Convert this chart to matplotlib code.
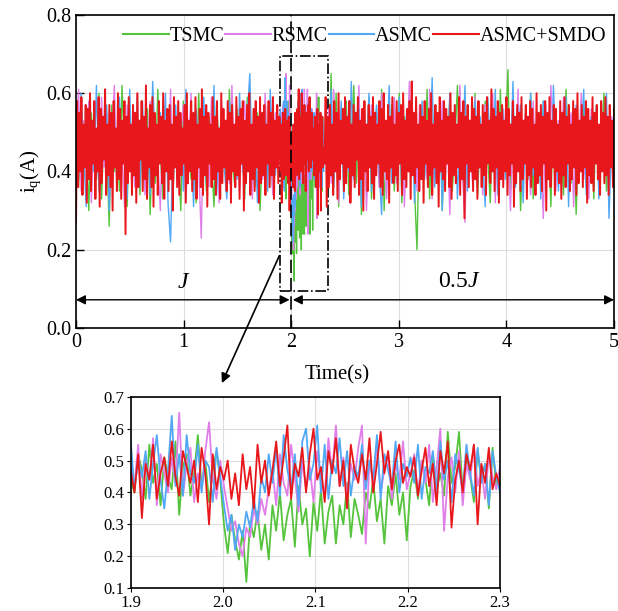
import numpy as np
import matplotlib
matplotlib.use('Agg')
import matplotlib.pyplot as plt
from matplotlib.patches import Rectangle, ConnectionPatch

plt.rcParams['font.family'] = 'Liberation Serif'
plt.rcParams['mathtext.fontset'] = 'custom'
plt.rcParams['mathtext.rm'] = 'Liberation Serif'
plt.rcParams['mathtext.it'] = 'Liberation Serif:italic'

# series names / colours
names = ['TSMC', 'RSMC', 'ASMC', 'ASMC+SMDO']
colors = ['#55C43C', '#E07FE8', '#52A8F5', '#E8171B']

# values, in units of 0.01 A
# zoom window 1.9 s .. 2.3 s
z_tsmc = [44,40,52,47,38,55,43,49,36,51,45,41,56,33,48,52,39,46,58,42,50,37,47,53,44,
          30,21,33,25,19,28,12,31,26,34,22,30,19,
          36,28,40,25,33,38,23,42,30,35,20,37,28,41,24,34,39,24,36,30,43,26,38,33,
          27,40,35,44,31,38,24,42,36,46,33,40,25,
          42,47,38,50,44,36,52,41,46,39,59,43,48,59,40,51,45,37,53,44,49,35,54,42,47]
z_rsmc = [48,42,55,38,50,44,57,36,52,46,40,51,43,65,39,49,54,37,46,41,53,62,44,38,50,
          42,35,28,31,24,20,29,26,35,30,38,33,41,
          47,36,52,43,39,55,45,34,50,41,48,37,53,44,39,57,46,61,42,51,38,49,44,54,
          61,24,50,43,55,40,47,52,38,49,44,56,41,
          46,52,39,50,43,55,37,48,60,28,45,51,40,53,36,49,44,55,42,47,38,52,45,41,48]
z_asmc = [56,41,50,45,53,38,49,58,44,35,47,64,42,52,39,58,46,43,55,40,50,48,37,54,45,
          36,28,33,22,30,26,34,29,38,31,45,40,52,
          43,54,39,58,47,41,52,36,56,60,44,49,61,40,55,38,50,46,57,42,53,39,48,45,
          55,41,50,44,58,38,52,47,42,56,40,49,45,
          51,43,55,38,48,46,53,40,56,44,50,37,52,47,41,55,46,39,54,43,49,36,53,45,40]
z_smdo = [47,40,52,32,49,44,55,38,46,51,42,56,45,39,53,48,43,50,37,54,46,30,52,41,48,
          44,50,38,46,36,52,41,48,35,55,43,50,39,
          47,56,42,51,61,38,49,45,54,40,52,60,44,48,37,53,46,57,42,50,35,55,47,43,
          52,44,57,40,49,59,46,53,41,50,55,43,48,
          45,51,39,47,54,42,49,36,53,46,56,29,44,50,40,52,47,55,30,49,43,54,41,46,42]

# 0 .. 1.9 s
a_tsmc = [50,36,58,41,47,30,55,44,38,60,33,52,45,26,57,40,49,35,62,43,31,54,46,39,59,34,51,42,56,29,
          48,37,61,44,33,53,40,57,36,50,45,30,58,42,47,38,55,32,60,41,49,35,54,43,31,57,46,39,52,34,
          61,44,37,56,40,48,33,59,42,51,36,55,30,47,58,41,45,35,53,43]
a_rsmc = [47,61,35,53,42,58,32,50,44,37,59,41,55,33,48,62,39,52,45,31,57,43,49,36,60,40,54,34,46,58,
          38,51,43,30,56,47,39,61,35,53,41,49,57,33,45,60,38,52,42,23,55,46,36,59,44,50,32,57,41,48,
          37,62,43,54,35,49,58,40,46,33,56,44,51,38,60,42,47,34,55,45]
a_asmc = [53,38,60,44,31,56,47,40,62,35,51,43,57,30,49,54,37,59,42,46,33,61,39,52,45,36,58,41,50,34,
          63,47,38,55,43,60,32,22,48,57,40,53,35,61,44,50,31,56,46,39,59,37,52,42,62,34,48,55,41,33,
          58,45,51,38,60,43,36,54,65,40,49,32,57,46,53,35,61,44,39,50]
a_smdo = [27,58,36,55,40,59,34,52,41,57,32,56,38,60,35,53,42,58,33,51,
          40,59,31,56,37,54,43,61,34,52,39,57,36,55,30,58,41,51,35,60,
          38,56,33,53,42,58,24,54,37,59,40,52,34,57,39,55,32,60,36,53,
          43,58,35,54,38,62,33,51,41,57,36,59,31,55,39,52,34,58,42,54,
          37,60,33,53,40,56,35,57,38,52,30,59,41,54,36,58,34,55,39,51,
          42,57,32,60,37,53,40,58,35,55,38,59,33,52,41,56,36,61,34,54,
          39,57,31,55,42,52,36,59,38,54,34,58,40,51,33,60,37,56,41,53,
          35,58,38,55,32,57,40,52,36,59,39,54,33,56,42,58,30,53,37,57,
          40,60,34,52,38,56,35,58,41,54,32,59,37,55,39,57,34,52,42,58,
          36,55,39,59,33,53,41,57,37,54]

# 2.3 .. 5 s
b_tsmc = [45,38,65,36,60,31,53,42,58,34,49,62,37,55,29,51,44,59,33,47,56,38,61,30,50,43,57,35,48,60,
          32,54,41,46,58,36,20,52,44,39,61,33,49,55,37,57,30,51,43,59,35,47,62,38,53,31,56,42,48,60,
          34,50,39,58,44,32,54,46,37,61,41,49,66,35,52,43,57,30,48,55,38,60,33,51,45,36,58,42,49,31,
          56,39,53,47,34,61,44,37,55,29,50,42,58,36,48,53,33,57,40,46,60,35,51,43,38]
b_rsmc = [43,56,37,61,45,32,52,48,39,58,35,50,44,62,38,54,30,47,57,41,53,36,60,45,33,51,42,59,37,48,
          55,31,46,63,40,52,35,57,44,49,38,61,33,53,46,41,58,36,50,29,55,43,48,62,39,27,54,45,37,59,
          42,51,34,57,47,40,60,32,53,44,38,56,46,30,52,41,61,36,49,55,43,34,58,40,50,45,28,57,39,62,
          47,35,53,42,59,37,48,55,31,51,44,60,38,46,33,56,43,52,36,58,41,49,35,54,45]
b_asmc = [55,42,61,36,50,45,58,33,52,40,63,38,47,56,31,54,44,60,35,49,57,41,29,53,46,62,37,51,43,59,
          34,48,56,40,61,32,50,45,58,38,53,42,64,36,47,55,30,51,44,60,39,57,33,49,46,62,35,52,41,58,
          37,54,43,31,59,47,40,61,34,50,56,38,53,44,63,36,48,57,32,51,42,60,39,46,55,33,58,43,50,37,
          62,45,35,53,48,59,31,52,41,57,38,49,61,34,46,54,40,56,33,51,44,60,28,47,55]
b_smdo = [42,59,31,54,36,57,39,52,34,58,40,55,33,60,38,53,42,56,35,59,
          37,54,41,58,32,52,39,57,36,55,43,59,34,53,38,56,30,58,40,52,
          35,57,41,54,37,59,33,55,39,52,42,58,36,56,34,60,40,53,38,57,
          32,54,41,59,37,52,39,58,35,55,42,57,34,60,38,53,36,56,40,58,
          33,63,39,55,37,59,41,52,35,57,38,54,32,58,42,53,36,56,39,60,
          34,52,41,57,37,55,31,59,40,53,38,58,35,56,42,54,36,60,33,55,
          39,57,37,52,41,59,34,55,38,58,28,54,42,57,36,53,40,59,35,56,
          38,54,33,58,41,52,36,57,39,55,34,59,42,53,37,61,40,56,35,54,
          41,58,32,55,38,57,36,53,40,59,34,56,39,52,42,58,31,54,37,57,
          40,55,35,59,38,53,42,57,33,54,39,58,36,56,41,52,34,60,37,55,
          39,57,35,54,42,58,30,55,38,59,36,53,41,57,34,56,40,52,37,58,
          33,55,39,59,36,54,42,57,35,52,38,58,41,56,34,60,37,53,40,57,
          36,54,41,58,32,56,39,53,37,59,35,55,42,57,38,52,34,58,40,55,
          37,59,39,54,34,57,41,53,36,56]

zoom_sets = [z_tsmc, z_rsmc, z_asmc, z_smdo]
pre_sets = [a_tsmc, a_rsmc, a_asmc, a_smdo]
post_sets = [b_tsmc, b_rsmc, b_asmc, b_smdo]
main_lw = [1.0, 1.0, 1.0, 1.4]

fig = plt.figure(figsize=(6.18, 6.11), dpi=100)
ax = fig.add_axes([0.123, 0.4632, 0.8706, 0.5123])
axz = fig.add_axes([0.2115, 0.0372, 0.5976, 0.3135])

for z, a, b, c, n, lw in zip(zoom_sets, pre_sets, post_sets, colors, names, main_lw):
    tz = np.linspace(1.9, 2.3, len(z))
    ta = np.linspace(0, 1.9, len(a), endpoint=False)
    tb = np.linspace(2.3, 5, len(b) + 1)[1:]
    t = np.concatenate([ta, tz, tb])
    y = np.concatenate([a, z, b]) / 100
    ax.plot(t, y, color=c, lw=lw, label=n)
    axz.plot(tz, np.array(z) / 100, color=c, lw=1.3)

ax.set_xlim(0, 5)
ax.set_ylim(0, 0.8)
ax.set_xticks(range(6))
ax.set_yticks([0, 0.2, 0.4, 0.6, 0.8])
ax.set_yticklabels(['0.0', '0.2', '0.4', '0.6', '0.8'])
ax.tick_params(direction='in', length=6, labelsize=14.5, width=1)
ax.grid(color='#DDDDDD', lw=0.8)
ax.set_axisbelow(True)
ax.set_xlabel('Time(s)', fontsize=15)
ax.xaxis.set_label_coords(0.485, -0.118)
ax.set_ylabel('i$_\\mathrm{q}$(A)', fontsize=15, labelpad=2)
for s in ax.spines.values():
    s.set_linewidth(1.2)

leg = ax.legend(loc='upper right', bbox_to_anchor=(1.008, 1.0), ncol=4, frameon=False,
                fontsize=14.5, handlelength=2.25, handletextpad=0.05, columnspacing=0.05,
                borderaxespad=0.2)
for l in leg.get_lines():
    l.set_linewidth(1.5)

# load change marker and zoom box
ax.axvline(2, ymin=0, ymax=1, color='k', ls='--', lw=1.2, dashes=(8, 3))
ax.add_patch(Rectangle((1.9, 0.095), 0.445, 0.6, fill=False, ec='k', lw=1.2, ls='-.'))
ax.annotate('', xy=(0, 0.072), xytext=(1.985, 0.072),
            arrowprops=dict(arrowstyle='<|-|>', color='k', lw=1, mutation_scale=14, shrinkA=0, shrinkB=0))
ax.annotate('', xy=(2.015, 0.072), xytext=(5, 0.072),
            arrowprops=dict(arrowstyle='<|-|>', color='k', lw=1, mutation_scale=14, shrinkA=0, shrinkB=0))
ax.text(1.0, 0.115, '$J$', fontsize=17, ha='center', va='center')
ax.text(3.56, 0.12, '0.5$J$', fontsize=17, ha='center', va='center')

con = ConnectionPatch(xyA=(1.89, 0.185), coordsA=ax.transData,
                      xyB=(0.359, 0.373), coordsB=fig.transFigure,
                      arrowstyle='-|>', color='k', lw=1.2, mutation_scale=14)
fig.add_artist(con)

axz.set_xlim(1.9, 2.3)
axz.set_ylim(0.1, 0.7)
axz.set_xticks([1.9, 2.0, 2.1, 2.2, 2.3])
axz.set_xticklabels(['1.9', '2.0', '2.1', '2.2', '2.3'])
axz.set_yticks([0.1, 0.2, 0.3, 0.4, 0.5, 0.6, 0.7])
axz.tick_params(direction='out', length=3, labelsize=12, pad=2)
axz.grid(color='#DDDDDD', lw=0.8)
axz.set_axisbelow(True)
for s in axz.spines.values():
    s.set_linewidth(1.2)

fig.savefig('out.png', dpi=100, facecolor='white')
